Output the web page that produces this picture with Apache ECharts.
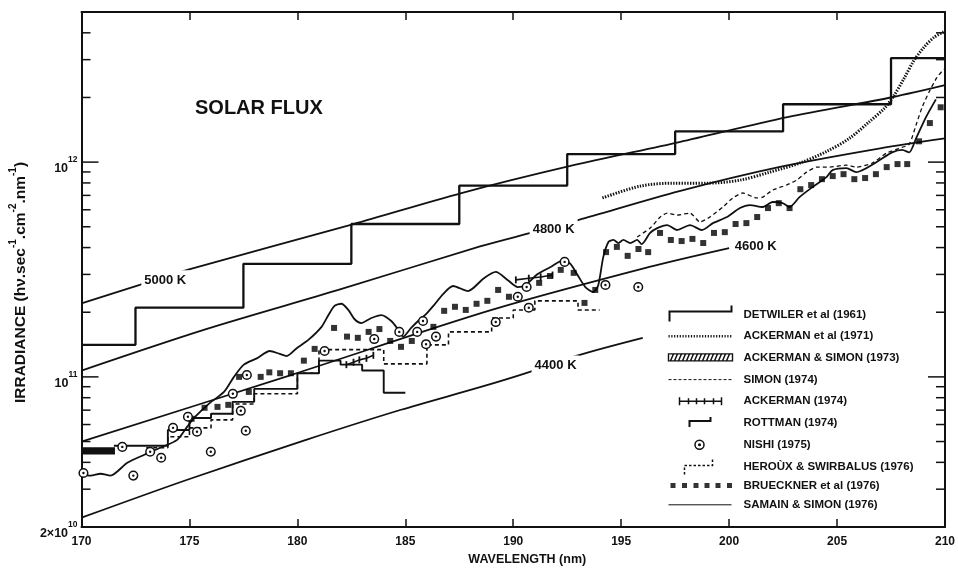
<!DOCTYPE html>
<html>
<head>
<meta charset="utf-8">
<title>Solar Flux</title>
<script src="https://cdn.jsdelivr.net/npm/echarts@6/dist/echarts.min.js"></script>
<style>
html,body{margin:0;padding:0;background:#fff;}
#chart{width:958px;height:574px;}
</style>
</head>
<body>
<div id="chart"></div>
<script>
// ---------------- DATA (wavelength nm, irradiance photons s-1 cm-2 nm-1) ----------------
const detwiler1961 = [[170,1.41e11],[172.5,2.10e11],[177.5,3.36e11],[182.5,5.15e11],[187.5,7.78e11],[192.5,1.09e12],[197.5,1.39e12],[202.5,1.86e12],[207.5,3.05e12],[210,3.05e12]];
const ackerman1971 = [[194.13,6.81e11],[195.88,7.73e11],[197.40,7.98e11],[198.97,7.98e11],[200.50,8.24e11],[201.88,8.98e11],[203.26,9.89e11],[204.51,1.12e12],[205.57,1.29e12],[206.49,1.54e12],[207.19,1.78e12],[207.65,2.05e12],[208.11,2.46e12],[208.57,2.98e12],[209.03,3.43e12],[209.49,3.81e12],[210.0,4.07e12]];
const ackermanSimon1973 = [[170, 171.55, 4.35e10, 4.70e10]];
const simon1974 = [[195.74,4.48e11],[196.34,4.93e11],[196.81,5.55e11],[197.13,5.79e11],[197.59,5.67e11],[198.19,5.79e11],[198.65,5.26e11],[199.11,5.55e11],[199.71,6.18e11],[200.17,6.81e11],[200.63,7.18e11],[201.28,6.81e11],[201.56,6.87e11],[202.02,7.41e11],[202.66,7.82e11],[203.13,8.24e11],[203.59,8.98e11],[204.05,9.48e11],[204.65,9.48e11],[205.43,9.68e11],[205.89,9.48e11],[206.63,9.89e11],[207.28,1.10e12],[207.88,1.16e12],[208.34,1.21e12],[208.66,1.49e12],[208.94,1.80e12],[209.26,2.12e12],[209.63,2.48e12],[209.95,2.71e12]];
const ackerman1974a = [[182.27,1.14e11],[182.60,1.17e11],[182.87,1.20e11],[183.20,1.22e11],[183.52,1.26e11]];
const ackerman1974b = [[190.12,2.83e11],[190.72,2.88e11],[191.27,2.92e11],[191.82,2.98e11]];
const rottman1974 = [[171.5,4.78e10],[174,5.66e10],[175,6.44e10],[176,6.73e10],[177,7.65e10],[178,8.79e10],[180,1.04e11],[181,1.19e11],[182,1.14e11],[183,1.07e11],[184,8.43e10],[185,8.43e10]];
const nishi1975 = [[170.09,3.57e10],[171.89,4.72e10],[172.40,3.47e10],[173.18,4.48e10],[173.69,4.20e10],[174.24,5.79e10],[174.93,6.52e10],[175.35,5.55e10],[175.99,4.48e10],[177.01,8.34e10],[177.38,6.95e10],[177.61,5.61e10],[177.66,1.02e11],[181.26,1.32e11],[183.56,1.50e11],[184.72,1.62e11],[185.55,1.62e11],[185.82,1.82e11],[185.96,1.42e11],[186.42,1.54e11],[189.19,1.80e11],[190.21,2.36e11],[190.62,2.62e11],[190.72,2.10e11],[192.38,3.43e11],[194.27,2.68e11],[195.79,2.62e11]];
const heroux1976 = [[173,4.68e10],[174,5.26e10],[175,5.79e10],[176,6.31e10],[177,7.48e10],[178,8.34e10],[180,1.04e11],[181,1.34e11],[184,1.15e11],[186,1.41e11],[187,1.62e11],[189,1.88e11],[190,2.05e11],[191,2.26e11],[193,2.05e11],[194,2.05e11]];
const brueckner1976 = [[175.1,6.38e10],[175.7,7.18e10],[176.3,7.25e10],[176.8,7.41e10],[177.3,1.00e11],[177.75,8.51e10],[178.3,1.00e11],[178.7,1.05e11],[179.2,1.04e11],[179.7,1.04e11],[180.3,1.19e11],[180.8,1.35e11],[181.7,1.69e11],[182.3,1.54e11],[182.8,1.52e11],[183.3,1.62e11],[183.8,1.67e11],[184.3,1.47e11],[184.8,1.38e11],[185.3,1.47e11],[186.3,1.71e11],[186.8,2.03e11],[187.3,2.12e11],[187.8,2.05e11],[188.3,2.19e11],[188.8,2.26e11],[189.3,2.54e11],[189.8,2.36e11],[191.2,2.74e11],[191.7,2.95e11],[192.2,3.15e11],[192.8,3.05e11],[193.3,2.21e11],[193.8,2.54e11],[194.3,3.81e11],[194.8,4.03e11],[195.3,3.66e11],[195.8,3.94e11],[196.25,3.81e11],[196.8,4.68e11],[197.3,4.34e11],[197.8,4.29e11],[198.3,4.39e11],[198.8,4.20e11],[199.3,4.68e11],[199.8,4.72e11],[200.3,5.15e11],[200.8,5.20e11],[201.3,5.55e11],[201.8,6.11e11],[202.3,6.44e11],[202.8,6.11e11],[203.3,7.48e11],[203.8,7.82e11],[204.3,8.33e11],[204.8,8.61e11],[205.3,8.79e11],[205.8,8.33e11],[206.3,8.43e11],[206.8,8.79e11],[207.3,9.48e11],[207.8,9.79e11],[208.25,9.79e11],[208.8,1.25e12],[209.3,1.52e12],[209.8,1.80e12]];
const samainSimon1976 = [[170.0,3.50e10],[170.42,3.47e10],[170.88,3.54e10],[171.34,3.47e10],[172.12,3.98e10],[172.91,4.34e10],[173.64,4.68e10],[174.43,5.09e10],[174.89,5.85e10],[175.21,6.44e10],[175.95,7.57e10],[176.60,8.51e10],[177.06,1.00e11],[177.52,1.14e11],[178.12,1.22e11],[178.72,1.32e11],[179.18,1.28e11],[179.50,1.25e11],[179.97,1.36e11],[180.52,1.49e11],[181.12,1.71e11],[181.44,1.94e11],[181.72,2.14e11],[182.04,2.19e11],[182.36,2.05e11],[182.64,1.86e11],[182.96,1.78e11],[183.43,1.88e11],[183.89,1.94e11],[184.35,1.82e11],[184.67,1.66e11],[184.90,1.54e11],[185.27,1.69e11],[185.64,1.84e11],[185.96,1.96e11],[186.33,2.16e11],[186.75,2.43e11],[187.21,2.65e11],[187.90,2.51e11],[188.64,2.88e11],[189.19,3.08e11],[189.75,2.82e11],[190.21,2.62e11],[190.58,2.68e11],[191.13,3.01e11],[191.73,3.25e11],[192.33,3.50e11],[192.65,3.36e11],[192.98,2.98e11],[193.34,2.62e11],[193.71,2.48e11],[193.94,2.68e11],[194.17,3.61e11],[194.41,4.25e11],[194.64,4.34e11],[194.87,4.20e11],[195.10,4.34e11],[195.42,4.20e11],[195.74,4.34e11],[195.95,4.15e11],[196.34,4.68e11],[196.67,4.93e11],[197.13,5.09e11],[197.59,4.83e11],[198.19,5.09e11],[198.74,4.83e11],[199.25,5.20e11],[199.90,5.55e11],[200.50,6.11e11],[200.96,6.31e11],[201.56,6.18e11],[202.02,6.52e11],[202.48,6.45e11],[202.80,6.18e11],[203.26,6.87e11],[203.86,7.65e11],[204.51,8.51e11],[204.79,9.18e11],[205.43,9.38e11],[205.89,8.98e11],[206.36,9.38e11],[206.96,1.02e12],[207.55,1.11e12],[208.02,1.14e12],[208.34,1.11e12],[208.66,1.29e12],[209.12,1.62e12],[209.58,1.96e12]];
// black-body curves
const bb5000 = [[170,2.20e11],[172.7,2.68e11],[174.9,3.15e11],[182.6,5.15e11],[187.6,7.18e11],[192.6,9.58e11],[197.7,1.24e12],[202.7,1.62e12],[207.6,2.01e12],[210,2.28e12]];
const bb4800 = [[170,1.07e11],[175.7,1.66e11],[181.9,2.54e11],[188.5,4.06e11],[190.8,4.68e11],[193.0,5.37e11],[197.7,7.33e11],[202.3,9.48e11],[207.0,1.16e12],[210,1.29e12]];
const bb4600 = [[170,4.99e10],[179.7,1.02e11],[189.0,2.05e11],[196.3,3.25e11],[200.0,3.98e11]];
const bb4400 = [[170,2.21e10],[174.9,3.32e10],[180.4,5.09e10],[184.8,7.03e10],[188.5,8.98e10],[190.7,1.05e11],[193.0,1.26e11],[196.0,1.52e11]];
const bbNames = ['5000 K','4800 K','4600 K','4400 K'];
// axes
const xMin = 170, xMax = 210, xStep = 5;
const yMin = 2e10, yMax = 5e12;
const yMajorTicks = [1e11, 1e12];
const yMinorTicks = [3e10,4e10,5e10,6e10,7e10,8e10,9e10,2e11,3e11,4e11,5e11,6e11,7e11,8e11,9e11,2e12,3e12,4e12];
const yLabelValues = [2e10, 1e11, 1e12];
const yLabelBase = ['2×10', '10', '10'];
const yLabelExp = ['10', '11', '12'];

// ---------------- CHART ----------------
const FONT = "'Liberation Sans', Arial, Helvetica, sans-serif";
const INK = '#111';
const chart = echarts.init(document.getElementById('chart'), null, {renderer: 'canvas'});

function lineSeries(name, data, lw, type, extra) {
  return Object.assign({
    name: name, type: 'line', data: data, symbol: 'none', showSymbol: false,
    lineStyle: {color: INK, width: lw, type: type || 'solid'},
    itemStyle: {color: INK}, silent: true, z: 3
  }, extra || {});
}
function bbLabel(coord, text) {
  return {
    symbol: 'rect', symbolSize: 1, itemStyle: {color: 'rgba(0,0,0,0)'},
    label: {show: true, position: 'inside', formatter: text, color: INK, fontFamily: FONT,
      fontSize: 13, fontWeight: 'bold', backgroundColor: '#fff', padding: [4, 3]},
    data: [{coord: coord}]
  };
}

const tickData = yMajorTicks.map(v => [xMin, v, 1]).concat(yMinorTicks.map(v => [xMin, v, 0]));

const series = [
  lineSeries(bbNames[0], bb5000, 1.8, 'solid', {smooth: 0.3, markPoint: bbLabel([173.88, 2.80e11], bbNames[0])}),
  lineSeries(bbNames[1], bb4800, 1.8, 'solid', {smooth: 0.3, markPoint: bbLabel([191.87, 4.88e11], bbNames[1])}),
  lineSeries(bbNames[2], bb4600, 1.8, 'solid', {smooth: 0.3, markPoint: bbLabel([201.23, 4.03e11], bbNames[2])}),
  lineSeries(bbNames[3], bb4400, 1.8, 'solid', {smooth: 0.3, markPoint: bbLabel([191.96, 1.125e11], bbNames[3])}),
  lineSeries('DETWILER et al (1961)', detwiler1961, 2.3, 'solid', {step: 'end'}),
  lineSeries('ACKERMAN et al (1971)', ackerman1971, 3, [1.4, 1.4], {smooth: 0.3}),
  {
    name: 'ACKERMAN & SIMON (1973)', type: 'custom', data: ackermanSimon1973,
    encode: {x: [0, 1], y: [2, 3]}, silent: true, z: 4,
    renderItem: function (params, api) {
      const p0 = api.coord([api.value(0), api.value(3)]);
      const p1 = api.coord([api.value(1), api.value(2)]);
      return {type: 'rect', shape: {x: p0[0], y: p0[1], width: p1[0] - p0[0], height: p1[1] - p0[1]}, style: {fill: INK}};
    }
  },
  lineSeries('SIMON (1974)', simon1974, 1.3, [4, 3], {smooth: 0.2}),
  lineSeries('ACKERMAN (1974)', ackerman1974a, 1.6, 'solid', {symbol: 'rect', showSymbol: true, symbolSize: [1.8, 7]}),
  lineSeries('ACKERMAN (1974)', ackerman1974b, 1.6, 'solid', {symbol: 'rect', showSymbol: true, symbolSize: [1.8, 7]}),
  lineSeries('ROTTMAN (1974)', rottman1974, 1.9, 'solid', {step: 'end'}),
  lineSeries('HEROÙX & SWIRBALUS (1976)', heroux1976, 1.6, [4, 3], {step: 'end'}),
  {
    name: 'BRUECKNER et al (1976)', type: 'scatter', data: brueckner1976, symbol: 'rect', symbolSize: 6,
    itemStyle: {color: '#000'}, silent: true, z: 5
  },
  lineSeries('SAMAIN & SIMON (1976)', samainSimon1976, 1.8, 'solid', {smooth: 0.25}),
  {
    name: 'NISHI (1975)', type: 'custom', data: nishi1975, encode: {x: 0, y: 1}, silent: true, z: 6,
    renderItem: function (params, api) {
      const p = api.coord([api.value(0), api.value(1)]);
      return {type: 'group', children: [
        {type: 'circle', shape: {cx: p[0], cy: p[1], r: 4.3}, style: {fill: '#fff', stroke: INK, lineWidth: 1.5}},
        {type: 'circle', shape: {cx: p[0], cy: p[1], r: 1.2}, style: {fill: INK}}
      ]};
    }
  },
  {
    name: 'yticks', type: 'custom', data: tickData, encode: {x: 0, y: 1}, silent: true, clip: false, z: 7,
    renderItem: function (params, api) {
      const v = api.value(1);
      const len = api.value(2) === 1 ? 17 : 9;
      const pl = api.coord([xMin, v]);
      const pr = api.coord([xMax, v]);
      return {type: 'group', children: [
        {type: 'line', shape: {x1: pl[0], y1: pl[1], x2: pl[0] + len, y2: pl[1]}, style: {stroke: INK, lineWidth: 1.5}},
        {type: 'line', shape: {x1: pr[0], y1: pr[1], x2: pr[0] - len, y2: pr[1]}, style: {stroke: INK, lineWidth: 1.5}}
      ]};
    }
  }
];

function hatch() {
  let s = 'M0,6H64V13H0Z';
  for (let x = 2; x <= 58; x += 4) s += 'M' + x + ',13L' + (x + 3) + ',6';
  return s;
}
const BOX = 'M0,0M70,20';
const strokeStyle = (w, dash) => ({color: 'none', borderColor: INK, borderWidth: w, borderType: dash || 'solid'});

const legendData = [
  {name: 'DETWILER et al (1961)', icon: 'path://' + BOX + 'M1,17V7H63V1', itemStyle: strokeStyle(2)},
  {name: 'ACKERMAN et al (1971)', icon: 'path://' + BOX + 'M0,10H64', itemStyle: strokeStyle(2.6, [1.2, 1.6])},
  {name: 'ACKERMAN & SIMON (1973)', icon: 'path://' + BOX + hatch(), itemStyle: strokeStyle(1.4)},
  {name: 'SIMON (1974)', icon: 'path://' + BOX + 'M0,10H64', itemStyle: strokeStyle(1, [3, 2])},
  {name: 'ACKERMAN (1974)', icon: 'path://' + BOX + 'M11,10H53M11,6V14M20,7V13M28,7V13M36,7V13M45,7V13M53,6V14', itemStyle: strokeStyle(1.5)},
  {name: 'ROTTMAN (1974)', icon: 'path://' + BOX + 'M21,14V8H42V4', itemStyle: strokeStyle(2)},
  {name: 'NISHI (1975)', icon: 'path://' + BOX + 'M35.5,10A4.5,4.5,0,1,1,26.5,10A4.5,4.5,0,1,1,35.5,10ZM31.8,10A0.8,0.8,0,1,1,30.2,10A0.8,0.8,0,1,1,31.8,10Z', itemStyle: strokeStyle(1.5)},
  {name: 'HEROÙX & SWIRBALUS (1976)', icon: 'path://' + BOX + 'M16,18V9H44V1', itemStyle: strokeStyle(1.5, [2.5, 2])},
  {name: 'BRUECKNER et al (1976)', icon: 'path://' + BOX + 'M2,7.5h5v5h-5zM13.5,7.5h5v5h-5zM25,7.5h5v5h-5zM36,7.5h5v5h-5zM47,7.5h5v5h-5zM58.5,7.5h5v5h-5z', itemStyle: {color: '#000', borderWidth: 0}},
  {name: 'SAMAIN & SIMON (1976)', icon: 'path://' + BOX + 'M0,10H63', itemStyle: strokeStyle(1)}
];

function yLabel(v) {
  for (let i = 0; i < yLabelValues.length; i++) {
    if (Math.abs(v - yLabelValues[i]) / yLabelValues[i] < 1e-6) return '{b|' + yLabelBase[i] + '}{s|' + yLabelExp[i] + '}';
  }
  return '';
}

const option = {
  animation: false,
  backgroundColor: '#fff',
  title: {text: 'SOLAR FLUX', left: 195, top: 98, padding: 0,
    textStyle: {fontFamily: FONT, fontSize: 20, fontWeight: 'bold', color: INK}},
  legend: {
    orient: 'vertical', left: 666, top: 302, padding: 0,
    itemWidth: 70, itemHeight: 20, itemGap: -3.3, selectedMode: false,
    textStyle: {fontFamily: FONT, fontSize: 11.5, fontWeight: 'bold', color: INK},
    data: legendData
  },
  grid: {left: 79, right: 12, top: 12, bottom: 47, containLabel: false},
  xAxis: [
    {
      type: 'value', min: xMin, max: xMax, interval: xStep, position: 'bottom',
      name: 'WAVELENGTH (nm)', nameLocation: 'middle', nameGap: 18,
      nameTextStyle: {fontFamily: FONT, fontSize: 12.5, fontWeight: 'bold', color: INK, padding: [0, 0, 0, 28]},
      axisLine: {lineStyle: {color: INK, width: 2}},
      axisTick: {inside: true, length: 8, lineStyle: {color: INK, width: 1.5}},
      axisLabel: {fontFamily: FONT, fontSize: 12, fontWeight: 'bold', color: INK, margin: 9, showMinLabel: true, showMaxLabel: true},
      splitLine: {show: false}
    },
    {
      type: 'value', min: xMin, max: xMax, interval: xStep, position: 'top',
      axisLine: {lineStyle: {color: INK, width: 2}},
      axisTick: {inside: true, length: 8, lineStyle: {color: INK, width: 1.5}},
      axisLabel: {show: false}, splitLine: {show: false}
    }
  ],
  yAxis: [
    {
      type: 'log', logBase: 10, min: yMin, max: yMax, position: 'left',
      name: '{a|IRRADIANCE (hν.sec}{s|-1}{a|.cm}{s|-2}{a|.nm}{s|-1}{a|)}',
      nameLocation: 'middle', nameRotate: 90, nameGap: 50,
      nameTextStyle: {padding: [0, 26, 0, 0], rich: {
        a: {fontFamily: FONT, fontSize: 15.5, fontWeight: 'bold', color: INK, lineHeight: 21, verticalAlign: 'bottom'},
        s: {fontFamily: FONT, fontSize: 10, fontWeight: 'bold', color: INK, verticalAlign: 'top'}
      }},
      axisLine: {lineStyle: {color: INK, width: 2}},
      axisTick: {show: false},
      axisLabel: {formatter: yLabel, margin: 4, padding: [6, 0, 0, 0], showMinLabel: true, showMaxLabel: false,
        rich: {
          b: {fontFamily: FONT, fontSize: 12.5, fontWeight: 'bold', color: INK, lineHeight: 20, verticalAlign: 'bottom'},
          s: {fontFamily: FONT, fontSize: 8.5, fontWeight: 'bold', color: INK, verticalAlign: 'top'}
        }},
      splitLine: {show: false}, minorTick: {show: false}
    },
    {
      type: 'log', logBase: 10, min: yMin, max: yMax, position: 'right',
      axisLine: {lineStyle: {color: INK, width: 2}},
      axisTick: {show: false}, axisLabel: {show: false}, splitLine: {show: false}
    }
  ],
  series: series
};
chart.setOption(option);
</script>
</body>
</html>
